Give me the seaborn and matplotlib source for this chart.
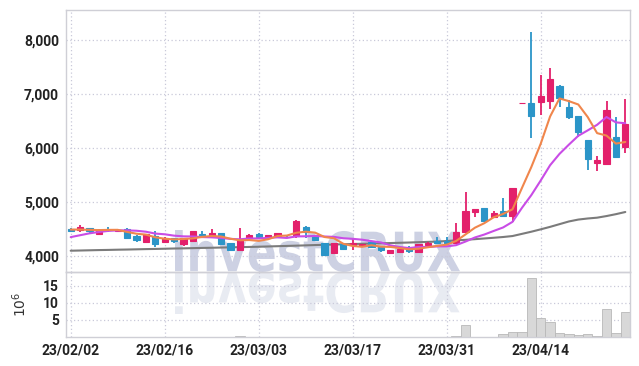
import numpy as np
import pandas as pd
import matplotlib
matplotlib.use('Agg')
import matplotlib.pyplot as plt
import seaborn as sns
from matplotlib.textpath import TextPath
from matplotlib.patches import PathPatch
from matplotlib.font_manager import FontProperties
from matplotlib import transforms
from matplotlib.ticker import FuncFormatter

# daily prices, 60 trading days (23/02/02 .. 23/04/27)
opens = [4500, 4490, 4510, 4400, 4490, 4465, 4500, 4375, 4265, 4375,
         4253, 4327, 4228, 4280, 4413, 4365, 4425, 4240, 4105, 4327,
         4413, 4333, 4370, 4360, 4370, 4543, 4383, 4246, 4050, 4222,
         4200, 4185, 4260, 4160, 4050, 4075, 4148, 4075, 4198, 4284,
         4284, 4250, 4440, 4810, 4880, 4715, 4830, 4745, 6830, 6830,
         6860, 6880, 7150, 6760, 6590, 6150, 5730, 5710, 6200, 6010]
highs = [4525, 4570, 4520, 4500, 4530, 4490, 4510, 4380, 4405, 4463,
         4345, 4335, 4330, 4465, 4463, 4500, 4430, 4245, 4525, 4400,
         4420, 4390, 4425, 4365, 4660, 4550, 4390, 4250, 4250, 4230,
         4309, 4230, 4280, 4175, 4115, 4140, 4190, 4225, 4260, 4357,
         4360, 4605, 5190, 4870, 4885, 4830, 5080, 5265, 6830, 8150,
         7360, 7475, 7160, 6890, 6600, 6150, 5850, 6880, 6580, 6900]
lows = [4440, 4450, 4400, 4395, 4450, 4450, 4330, 4265, 4240, 4167,
        4240, 4250, 4190, 4275, 4360, 4360, 4225, 4100, 4100, 4320,
        4330, 4320, 4365, 4350, 4340, 4333, 4290, 4000, 4040, 4130,
        4111, 4170, 4155, 4080, 4040, 4070, 4060, 4070, 4190, 4230,
        4230, 4245, 4430, 4720, 4650, 4705, 4735, 4636, 6830, 6180,
        6620, 6716, 6753, 6530, 6210, 5600, 5575, 5700, 5840, 5915]
closes = [4470, 4535, 4455, 4485, 4475, 4475, 4340, 4290, 4400, 4230,
          4340, 4280, 4325, 4460, 4365, 4425, 4230, 4120, 4315, 4390,
          4345, 4383, 4420, 4357, 4650, 4444, 4296, 4013, 4246, 4135,
          4240, 4222, 4160, 4110, 4110, 4135, 4100, 4222, 4246, 4235,
          4250, 4440, 4830, 4865, 4655, 4800, 4745, 5260, 6830, 6600,
          6960, 7270, 6930, 6580, 6290, 5800, 5780, 6700, 5840, 6440]
# volume in millions
volume = [0.03, 0.02, 0.03, 0.02, 0.02, 0.02, 0.03, 0.03, 0.03, 0.04,
          0.03, 0.02, 0.03, 0.04, 0.03, 0.03, 0.04, 0.05, 0.15, 0.04,
          0.04, 0.03, 0.03, 0.02, 0.12, 0.12, 0.04, 0.06, 0.04, 0.03,
          0.03, 0.02, 0.03, 0.03, 0.03, 0.02, 0.03, 0.03, 0.03, 0.04,
          0.05, 0.3, 3.4, 0.1, 0.1, 0.1, 0.9, 1.4, 1.4, 17.2,
          5.5, 4.3, 1.1, 0.8, 0.5, 0.8, 0.3, 8.2, 1.1, 7.2]
# moving average values before the window fills
ma5_head = [4490, 4490, 4485, 4480]
ma10_head = [4350, 4385, 4420, 4445, 4465, 4475, 4475, 4468, 4450]
ma60 = [4098, 4102, 4106, 4110, 4113, 4117, 4120, 4124, 4128, 4131,
        4135, 4139, 4142, 4146, 4150, 4153, 4157, 4161, 4164, 4168,
        4172, 4177, 4182, 4187, 4192, 4197, 4203, 4208, 4213, 4218,
        4222, 4227, 4231, 4235, 4240, 4245, 4250, 4256, 4262, 4268,
        4278, 4290, 4300, 4312, 4325, 4338, 4352, 4370, 4410, 4450,
        4494, 4540, 4590, 4640, 4675, 4695, 4710, 4740, 4775, 4815]
tick_pos = [0, 10, 20, 30, 40, 50]
tick_labels = ['23/02/02', '23/02/16', '23/03/03', '23/03/17', '23/03/31', '23/04/14']

df = pd.DataFrame({'open': opens, 'high': highs, 'low': lows,
                   'close': closes, 'volume': volume, 'ma60': ma60})
df['idx'] = np.arange(len(df))
df['ma5'] = df['close'].rolling(5).mean()
df.loc[:3, 'ma5'] = ma5_head
df['ma10'] = df['close'].rolling(10).mean()
df.loc[:8, 'ma10'] = ma10_head

up_c = '#e3206b'
down_c = '#2b95c8'
grid_c = '#c9c9d9'
spine_c = '#cfcfd6'

sns.set_theme(style='white')
plt.rcParams['font.family'] = ['Roboto', 'DejaVu Sans']

fig = plt.figure(figsize=(6.39, 3.66), dpi=100)
fig.patch.set_facecolor('white')
ax = fig.add_axes([66/639, 1-272/366, 564/639, 262/366])
axv = fig.add_axes([66/639, 1-337/366, 564/639, 65/366], sharex=ax)
for a in (ax, axv):
    a.set_facecolor('none')
    for s in a.spines.values():
        s.set_color(spine_c)
        s.set_linewidth(1)
    a.grid(True, color=grid_c, linestyle=(0, (1, 2)), linewidth=0.9)
    a.set_axisbelow(True)
    a.tick_params(length=0, labelsize=10, colors='#222222', pad=5)

# candles
is_up = df['close'] >= df['open']
colors = np.where(is_up, up_c, down_c)
ax.vlines(df['idx'], df['low'], df['high'], colors=colors, linewidth=1.3, zorder=3)
ax.bar(df['idx'], df['close'] - df['open'], bottom=df['open'], width=0.64,
       color=colors, edgecolor=colors, linewidth=0.8, zorder=4)

# moving averages
sns.lineplot(data=df, x='idx', y='ma60', ax=ax, color='#7b7b7b', linewidth=1.5, zorder=2)
sns.lineplot(data=df, x='idx', y='ma10', ax=ax, color='#c94ce6', linewidth=1.5, zorder=5)
sns.lineplot(data=df, x='idx', y='ma5', ax=ax, color='#f0864c', linewidth=1.5, zorder=6)

ax.set_ylim(3704, 8556)
ax.set_xlim(-0.5, 59.5)
ax.set_yticks([4000, 5000, 6000, 7000, 8000])
ax.yaxis.set_major_formatter(FuncFormatter(lambda v, p: f'{int(v):,}'))
ax.set_xlabel('')
ax.set_ylabel('')
ax.tick_params(axis='x', labelbottom=False)
for lab in ax.get_yticklabels():
    lab.set_fontweight('bold')

# volume
sns.barplot(data=df, x='idx', y='volume', ax=axv, native_scale=True, width=1.0,
            color='#d8d8d8', edgecolor='#b8b8b8', linewidth=0.6, saturation=1)
axv.set_ylim(0, 19.1)
axv.set_yticks([5, 10, 15])
axv.set_xlim(-0.5, 59.5)
axv.set_xticks(tick_pos)
axv.set_xticklabels(tick_labels, fontweight='bold')
for lab in axv.get_yticklabels():
    lab.set_fontweight('bold')
axv.set_xlabel('')
axv.set_ylabel(r'$10^6$', fontsize=10, color='#333333', labelpad=10)

# watermark with reflection
fp = FontProperties(family='DejaVu Sans', weight='bold')
tp = TextPath((0, 0), 'investCRUX', size=100, prop=fp)
ext = tp.get_extents()
sx = 285 / ext.width
sy = 42 / ext.height
base = transforms.Affine2D().translate(-ext.x0, -ext.y0)
top_tr = base + transforms.Affine2D().scale(sx, sy).translate(175, 366 - 272)
bot_tr = base + transforms.Affine2D().scale(sx, -sy).translate(175, 366 - 272)
fig.patches.append(PathPatch(tp, transform=top_tr, facecolor='#c1c6dc', edgecolor='none',
                             alpha=0.8, zorder=-1))
fig.patches.append(PathPatch(tp, transform=bot_tr, facecolor='#e3e6ef', edgecolor='none',
                             alpha=0.8, zorder=-1))

fig.savefig('out.png', dpi=100)
